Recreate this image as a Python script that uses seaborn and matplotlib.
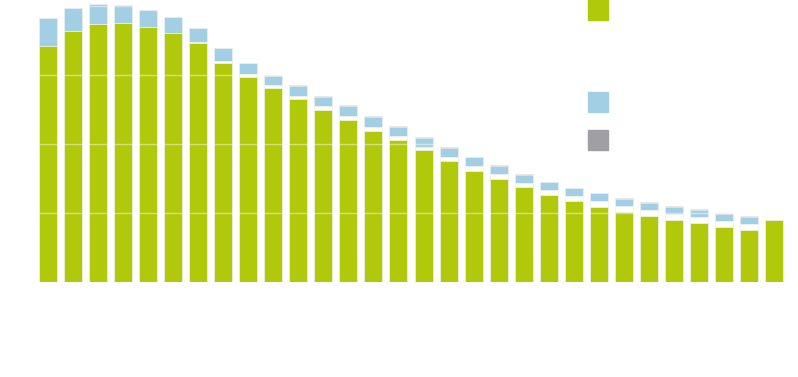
import numpy as np
import pandas as pd
import matplotlib
matplotlib.use("Agg")
import matplotlib.pyplot as plt
from matplotlib.patches import Rectangle
import seaborn as sns

# categories (no labels shown in the chart)
categories = [str(i) for i in range(1, 31)]

# stacked segments, bottom to top
green = [68.5, 72.8, 74.9, 75.2, 73.8, 72.1, 69.4, 63.6, 59.5, 56.3,
         53.0, 49.9, 46.9, 43.9, 41.2, 38.2, 35.1, 32.3, 29.9, 27.4,
         25.2, 23.5, 21.8, 20.4, 19.1, 18.0, 17.2, 16.0, 15.1, 18.0]
white = [0.0, 0.0, 0.0, 0.0, 0.2, 0.2, 0.2, 0.4, 0.7, 0.8,
         0.9, 1.0, 1.2, 1.1, 1.1, 1.0, 1.2, 1.3, 1.4, 1.2,
         1.4, 1.4, 1.7, 1.7, 1.7, 1.7, 1.7, 1.7, 1.8, 0.0]
blue = [8.1, 6.7, 5.8, 5.1, 4.8, 4.6, 4.1, 3.7, 3.3, 2.6,
        2.9, 2.8, 2.9, 2.9, 2.6, 2.5, 2.6, 2.5, 2.3, 2.5,
        2.3, 2.3, 2.2, 2.0, 2.1, 2.1, 2.0, 2.1, 2.0, 0.0]
gray = [0.0, 0.0, 0.0, 0.0, 0.0, 0.0, 0.0, 0.0, 0.0, 0.3,
        0.3, 0.2, 0.3, 0.2, 0.3, 0.45, 0.1, 0.2, 0.2, 0.2,
        0.2, 0.1, 0.2, 0.2, 0.3, 0.1, 0.3, 0.2, 0.2, 0.0]

GREEN = "#b0c90a"
BLUE = "#a2cfe3"
GRAY = "#a09fa4"

df = pd.DataFrame({"cat": categories, "green": green, "white": white,
                   "blue": blue, "gray": gray})
df["c1"] = df["green"]
df["c2"] = df["c1"] + df["white"]
df["c3"] = df["c2"] + df["blue"]
df["c4"] = df["c3"] + df["gray"]

sns.set_style("white")
fig = plt.figure(figsize=(7.98, 3.77), dpi=100)
ax = fig.add_axes([35.5 / 798, 95 / 377, 751 / 798, 282 / 377])

# stack by overdrawing cumulative totals, tallest first
for col, color in [("c4", GRAY), ("c3", BLUE), ("c2", "white"), ("c1", GREEN)]:
    sns.barplot(data=df, x="cat", y=col, color=color, saturation=1,
                width=0.72, errorbar=None, edgecolor="#f4f4f4",
                linewidth=0.5, ax=ax)

for yv in [20, 40, 60, 80]:
    ax.axhline(yv, color="white", alpha=0.45, lw=1, zorder=5)

ax.set_xlim(-0.5, 29.5)
ax.set_ylim(0, 81.74)
ax.set_xlabel("")
ax.set_ylabel("")
ax.set_xticks([])
ax.set_yticks([])
sns.despine(ax=ax, left=True, bottom=True)

# legend swatches (no text in the reference)
for y0, color in [(357, GREEN), (265, BLUE), (227, GRAY)]:
    fig.patches.append(Rectangle((588 / 798, y0 / 377), 20 / 798, 20 / 377,
                                 transform=fig.transFigure, color=color))

fig.savefig("out.png", dpi=100)
